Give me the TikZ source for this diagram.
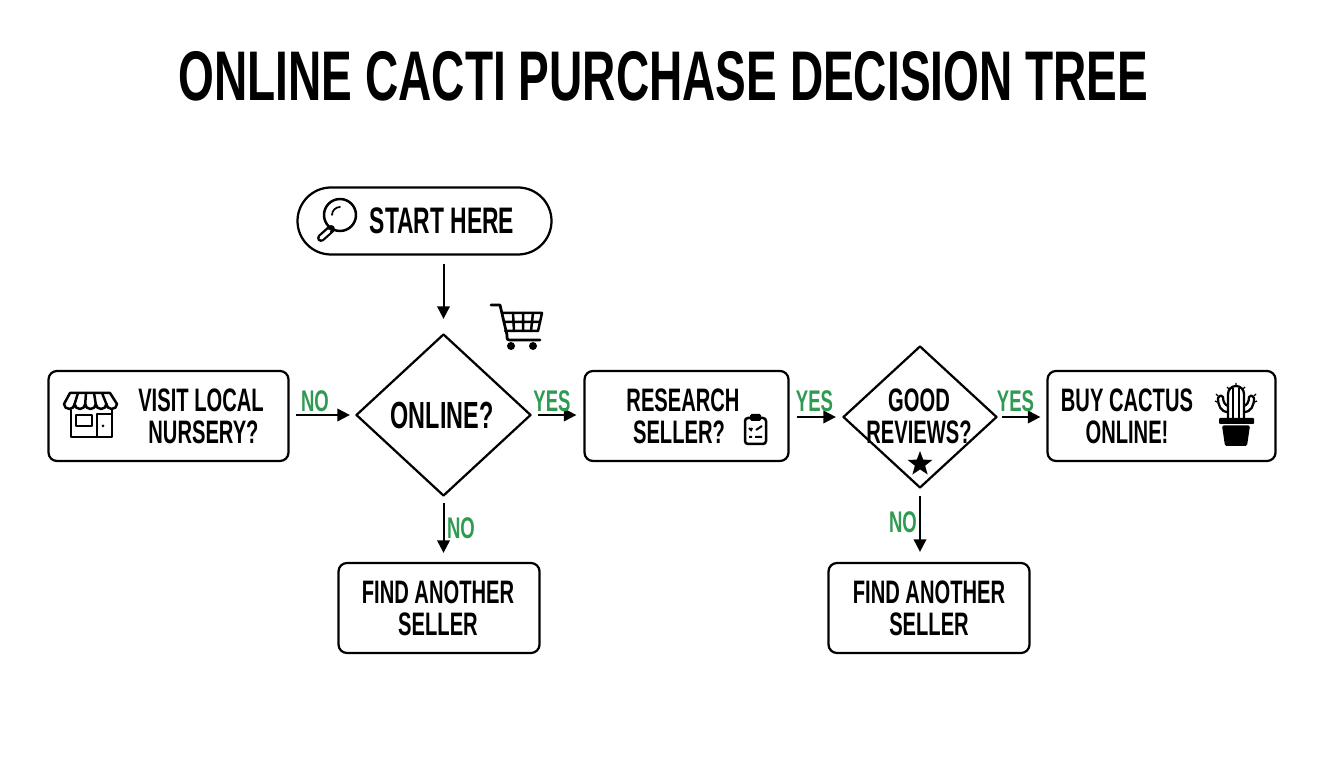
\documentclass[tikz,border=0pt]{standalone}
\usepackage{fontspec}
\setmainfont{Liberation Sans}[FakeStretch=0.62]
\newfontfamily\titlefont{Liberation Sans}[FakeStretch=0.655]
\usetikzlibrary{arrows.meta}
\usetikzlibrary{shapes.geometric}
\definecolor{labelgreen}{HTML}{2F9A52}
\tikzset{
	flowbox/.style={draw, rounded corners=1.7mm, line width=0.45mm, minimum height=18mm},
	flowdiamond/.style={draw, diamond, line width=0.45mm, line join=round, inner sep=0pt},
	boxtext/.style={align=center, font=\fontsize{18.5}{18.2}\selectfont\bfseries},
	branchlabel/.style={text=labelgreen, font=\fontsize{17}{17}\selectfont\bfseries, inner sep=0pt},
	flowarrow/.style={-{Triangle[length=2.5mm,width=2.5mm]}, line width=0.4mm},
	iconline/.style={line width=0.5mm, line join=round, line cap=round}
}

\begin{document}
\begin{tikzpicture}[x=0.2mm,y=-0.2mm]
	\useasboundingbox (0,0) rectangle (1344,768);

	\node[font=\titlefont\fontsize{40}{40}\selectfont\bfseries, inner sep=0pt] (title) at (663.5,76) {ONLINE CACTI PURCHASE DECISION TREE};

	\node[flowbox, rounded corners=6.7mm, minimum width=50.8mm, minimum height=13.4mm] (start) at (424.5,221) {};
	\node[boxtext, font=\fontsize{21}{20}\selectfont\bfseries, inner sep=0pt] (starttext) at (442,221) {START HERE};

	\node[flowbox, minimum width=48mm] (visit) at (168.5,416) {};
	\node[boxtext] (visittext) at (201,416) {VISIT LOCAL\\\hspace*{1mm}NURSERY?};

	\node[flowdiamond, minimum width=35mm, minimum height=32.4mm] (online) at (443.5,415) {};
	\node[boxtext, font=\fontsize{21.5}{20}\selectfont\bfseries] (onlinetext) at (442,415) {ONLINE?};

	\node[flowbox, minimum width=40.8mm] (research) at (686.5,416) {};
	\node[boxtext] (researchtext) at (683,416) {RESEARCH\\SELLER?\hspace*{1.6mm}};

	\node[flowdiamond, minimum width=30.8mm, minimum height=28.4mm] (reviews) at (920,417) {};
	\node[boxtext] (reviewstext) at (919,416) {GOOD\\REVIEWS?};

	\node[flowbox, minimum width=45.6mm] (buy) at (1161.5,416) {};
	\node[boxtext] (buytext) at (1127,416) {BUY CACTUS\\ONLINE!};

	\node[flowbox, minimum width=40.2mm] (findleft) at (439,608) {};
	\node[boxtext] (findlefttext) at (438,608) {FIND ANOTHER\\SELLER};

	\node[flowbox, minimum width=40.2mm] (findright) at (929,608) {};
	\node[boxtext] (findrighttext) at (929,608) {FIND ANOTHER\\SELLER};

	\draw[flowarrow, shorten <=1.6mm, shorten >=2.8mm] (start.south -| online.north) -- (online.north);
	\draw[flowarrow, shorten <=1.2mm, shorten >=1mm] (visit.east |- online.west) -- (online.west);
	\draw[flowarrow, shorten <=1.2mm, shorten >=1.4mm] (online.east) -- (research.west |- online.east);
	\draw[flowarrow, shorten <=1.4mm, shorten >=1.2mm] (research.east |- reviews.west) -- (reviews.west);
	\draw[flowarrow, shorten <=0.8mm, shorten >=1.2mm] (reviews.east) -- (buy.west |- reviews.east);
	\draw[flowarrow, shorten <=1.2mm, shorten >=1.8mm] (online.south) -- (online.south |- findleft.north);
	\draw[flowarrow, shorten <=1.4mm, shorten >=2mm] (reviews.south) -- (reviews.south |- findright.north);

	\node[branchlabel] (nowest) at (315,401) {NO};
	\node[branchlabel] (yesonline) at (552,401) {YES};
	\node[branchlabel] (yesresearch) at (814.5,401) {YES};
	\node[branchlabel] (yesreviews) at (1015.5,401) {YES};
	\node[branchlabel] (nosouth) at (461,528) {NO};
	\node[branchlabel] (noreviews) at (903,522) {NO};

	\draw[iconline] (340,215) circle (16);
	\draw[iconline, line width=0.35mm] (332,215) arc (180:270:8);
	\draw[line width=1.6mm, line cap=round] (331,229) -- (321,238);
	\draw[line width=0.7mm, line cap=round, white] (329,231) -- (321,238);

	\draw[iconline] (70,393) -- (110,393) -- (117,404) arc (0:180:5.3 and 5) arc (0:180:5.3 and 5) arc (0:180:5.3 and 5) arc (0:180:5.3 and 5) arc (0:180:5.3 and 5) -- cycle;
	\draw[iconline] (78,393) -- (74.6,404) (86,393) -- (85.2,404) (94,393) -- (95.8,404) (102,393) -- (106.4,404);
	\draw[iconline] (71,410) -- (71,437) -- (112,437) -- (112,410);
	\draw[iconline] (76,415) rectangle (92,426);
	\draw[iconline] (97,414) -- (97,437) (97,414) -- (112,414);
	\fill (103,426) circle (1.5);

	\draw[iconline, line width=0.55mm] (491,305) -- (500,305) -- (507,335) .. controls (507,340) .. (512,340) -- (540,340);
	\draw[iconline] (502,313) -- (542,313) -- (538,331) -- (505,331);
	\draw[iconline] (513,313) -- (514,331) (523,313) -- (523,331) (533,313) -- (531,331) (504,322) -- (540,322);
	\fill (511,346) circle (4) (533,346) circle (4);

	\draw[iconline, rounded corners=0.6mm] (745,418) rectangle (766,444);
	\fill[rounded corners=0.3mm] (750,414) rectangle (761,421);
	\draw[line width=0.4mm] (749,428) -- (751,430) -- (752,428) (756,430) -- (762,426) (749,437) -- (752,437) (755,437) -- (762,437);

	\node[star, star points=5, star point ratio=2.4, fill=black, inner sep=0pt, minimum size=5.2mm] (reviewstar) at (920,464) {};

	\draw[iconline, line width=0.45mm] (1228,418) -- (1228,394) arc (180:360:8) -- (1244,418);
	\draw[line width=0.35mm] (1233,388) -- (1233,418) (1239,388) -- (1239,418);
	\draw[iconline, line width=0.45mm] (1228,412) .. controls (1221,412) and (1218,406) .. (1218,398) (1218,398) .. controls (1220,395) and (1222,395) .. (1223,397) .. controls (1223,402) and (1225,405) .. (1228,406);
	\draw[iconline, line width=0.45mm] (1244,412) .. controls (1251,412) and (1254,406) .. (1254,398) (1254,398) .. controls (1252,395) and (1250,395) .. (1249,397) .. controls (1249,402) and (1247,405) .. (1244,406);
	\draw[line width=0.25mm] (1236,386) -- (1236,383) (1229,389) -- (1227,387) (1243,389) -- (1245,387) (1217,402) -- (1215,401) (1255,402) -- (1257,401) (1218,396) -- (1216,394) (1254,396) -- (1256,394);
	\fill[rounded corners=0.2mm] (1219,418) rectangle (1254,424);
	\fill[rounded corners=0.3mm] (1222,425.5) -- (1250,425.5) -- (1247,446) -- (1225,446) -- cycle;
\end{tikzpicture}
\end{document}
